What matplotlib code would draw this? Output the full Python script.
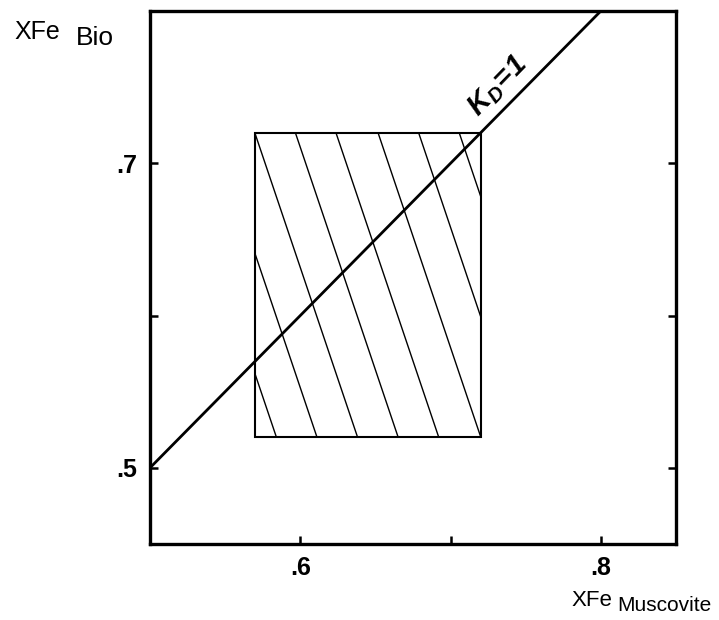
import numpy as np
import matplotlib
matplotlib.use("Agg")
import matplotlib.pyplot as plt
from matplotlib.patches import Rectangle

plt.rcParams['font.family'] = ['Liberation Sans', 'DejaVu Sans']
plt.rcParams['mathtext.fontset'] = 'custom'
plt.rcParams['mathtext.bf'] = 'Liberation Sans:bold:italic'
plt.rcParams['mathtext.rm'] = 'Liberation Sans'

# assi
x_lim = [0.5, 0.85]
y_lim = [0.45, 0.80]
x_ticks = [0.6, 0.7, 0.8]
x_ticklabels = ['.6', '', '.8']
y_ticks = [0.5, 0.6, 0.7]
y_ticklabels = ['.5', '', '.7']

# retta KD = 1
kd_x = [0.5, 0.8]
kd_y = [0.5, 0.8]

# campo tratteggiato
box_x = [0.57, 0.72]
box_y = [0.52, 0.72]
hatch_slope = 0.342          # x = c - slope*y
hatch_c = [0.762, 0.789, 0.816, 0.843, 0.870, 0.898, 0.925, 0.952]

fig = plt.figure(figsize=(7.19, 6.20), dpi=100)
ax = fig.add_axes([0.2086, 0.1226, 0.7316, 0.8597])
ax.set_xlim(x_lim)
ax.set_ylim(y_lim)

rect = Rectangle((box_x[0], box_y[0]), box_x[1] - box_x[0], box_y[1] - box_y[0],
                 fill=False, edgecolor='black', linewidth=1.5, zorder=3)
ax.add_patch(rect)

yy = np.array(y_lim)
for c in hatch_c:
    ln, = ax.plot(c - hatch_slope * yy, yy, color='black', linewidth=1.0)
    ln.set_clip_path(rect)

ax.plot(kd_x, kd_y, color='black', linewidth=2.0, zorder=4)

ax.text(0.738, 0.744, r'$\mathbf{K_D\!=\!1}$', fontsize=21, rotation=46,
        rotation_mode='anchor', ha='center', va='bottom')

for s in ax.spines.values():
    s.set_linewidth(2.4)

ax.set_xticks(x_ticks)
ax.set_xticklabels(x_ticklabels, fontsize=18, fontweight='bold')
ax.set_yticks(y_ticks)
ax.set_yticklabels(y_ticklabels, fontsize=18, fontweight='bold')
ax.tick_params(axis='both', direction='in', length=6, width=1.8, pad=9)
ax.tick_params(axis='y', right=True)

fig.text(0.020, 0.937, 'XFe', fontsize=18, ha='left', va='baseline')
fig.text(0.106, 0.928, 'Bio', fontsize=19, ha='left', va='baseline')
fig.text(0.795, 0.022, 'XFe', fontsize=16, ha='left', va='baseline')
fig.text(0.990, 0.014, 'Muscovite', fontsize=15, ha='right', va='baseline')

fig.savefig('out.png', dpi=100)
